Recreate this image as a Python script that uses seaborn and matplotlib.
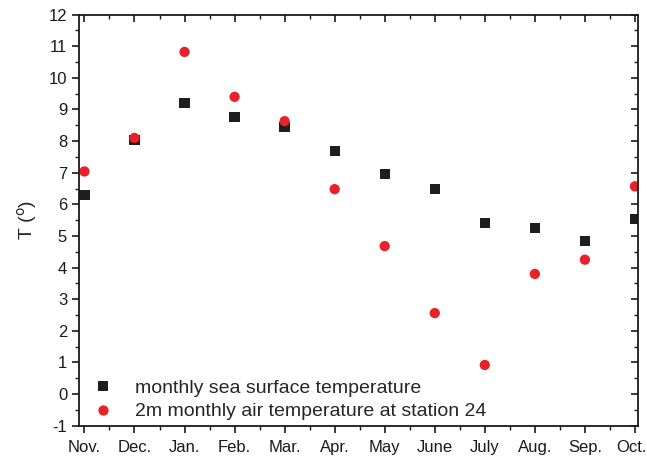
import matplotlib
matplotlib.use("Agg")
import matplotlib.pyplot as plt
import matplotlib.transforms as mtrans
import seaborn as sns
import pandas as pd
import numpy as np
from matplotlib.ticker import MultipleLocator

months = ["Nov.", "Dec.", "Jan.", "Feb.", "Mar.", "Apr.", "May", "June", "July", "Aug.", "Sep.", "Oct."]
sea_surface = [6.3, 8.03, 9.21, 8.76, 8.45, 7.69, 6.96, 6.48, 5.41, 5.25, 4.84, 5.54]
air_temp = [7.04, 8.1, 10.82, 9.4, 8.63, 6.48, 4.68, 2.56, 0.92, 3.8, 4.25, 6.57]
label_sea = "monthly sea surface temperature"
label_air = "2m monthly air temperature at station 24"

sns.set_style("ticks")
plt.rcParams['font.family'] = ['Liberation Sans', 'DejaVu Sans']
plt.rcParams['axes.unicode_minus'] = False

df = pd.DataFrame({
    "pos": list(range(len(months))) * 2,
    "T": sea_surface + air_temp,
    "series": [label_sea] * len(months) + [label_air] * len(months),
})

fig = plt.figure(figsize=(6.47, 4.57), dpi=100)
ax = fig.add_axes([0.122, 0.0685, 0.864, 0.8995])

sns.scatterplot(data=df, x="pos", y="T", hue="series", style="series",
                markers={label_sea: "s", label_air: "o"},
                palette={label_sea: "#1e1e1e", label_air: "#e8212b"},
                s=55, linewidth=0, ax=ax)

ax.set_xlim(-0.11, 11.06)
ax.set_ylim(-1, 12)
ax.set_xticks(range(len(months)))
ax.set_xticklabels(months)
ax.xaxis.set_minor_locator(MultipleLocator(0.5))
ax.set_yticks(range(-1, 13))
ax.yaxis.set_minor_locator(MultipleLocator(0.5))
ax.set_xlabel("")
ax.set_ylabel("T ($^{\\rm o}$)", fontsize=14, labelpad=7)

for s in ax.spines.values():
    s.set_linewidth(1.3)
    s.set_color("#1a1a1a")
    s.set_visible(True)

ax.tick_params(axis="both", which="major", direction="out", length=5, width=1.2, labelsize=12, colors="#1a1a1a")
ax.tick_params(axis="both", which="minor", direction="out", length=3, width=1.0, colors="#1a1a1a")
ax.tick_params(axis="x", which="major", pad=5)
ax.tick_params(axis="both", which="both", top=True, right=True)
for t in ax.xaxis.get_major_ticks() + ax.xaxis.get_minor_ticks():
    t.tick2line.set_marker(matplotlib.lines.TICKDOWN)
for t in ax.yaxis.get_major_ticks() + ax.yaxis.get_minor_ticks():
    t.tick2line.set_marker(matplotlib.lines.TICKLEFT)

# keep last label inside the figure
last = ax.get_xticklabels()[-1]
last.set_transform(last.get_transform() + mtrans.ScaledTranslation(-4 / 100, 0, fig.dpi_scale_trans))

leg = ax.legend(loc="lower left", frameon=False, fontsize=14, handlelength=1.0,
                handletextpad=1.1, borderaxespad=0.1, labelspacing=0.3,
                bbox_to_anchor=(0.009, -0.011))

fig.savefig("out.png", dpi=100)
